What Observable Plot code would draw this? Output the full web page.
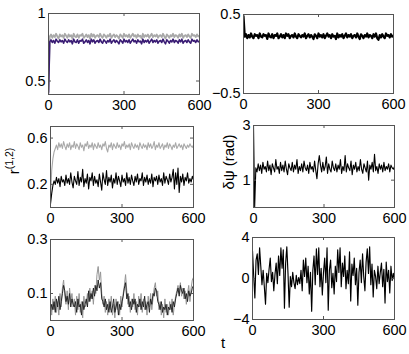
<!DOCTYPE html>
<html><head><meta charset="utf-8">
<script src="https://cdn.jsdelivr.net/npm/d3@7"></script>
<script src="https://cdn.jsdelivr.net/npm/@observablehq/plot@0.6"></script>
<style>
body{margin:0;background:#fff;}
#chart{position:relative;width:409px;height:354px;overflow:hidden;font-family:"Liberation Sans",Arial,sans-serif;}
#chart svg{position:absolute;overflow:visible;}
</style></head><body><div id="chart"></div>
<script>
// time axis (shared by all series)
const t = [0,5,10,15,20,25,30,35,40,45,50,55,60,65,70,75,80,85,90,95,
100,105,110,115,120,125,130,135,140,145,150,155,160,165,170,175,180,185,190,195,
200,205,210,215,220,225,230,235,240,245,250,255,260,265,270,275,280,285,290,295,
300,305,310,315,320,325,330,335,340,345,350,355,360,365,370,375,380,385,390,395,
400,405,410,415,420,425,430,435,440,445,450,455,460,465,470,475,480,485,490,495,
500,505,510,515,520,525,530,535,540,545,550,555,560,565,570,575,580,585,590,595,600];
const xTicks = [0, 300, 600];

// panel 1 (top left)
const p1Gray = [0.42,0.83,0.845,0.82,0.84,0.825,0.85,0.83,0.815,0.845,
0.83,0.84,0.82,0.85,0.835,0.82,0.845,0.83,0.84,0.815,
0.85,0.83,0.825,0.845,0.82,0.84,0.835,0.85,0.82,0.83,
0.845,0.825,0.84,0.815,0.85,0.83,0.845,0.82,0.835,0.84,
0.825,0.85,0.83,0.82,0.845,0.835,0.82,0.84,0.83,0.85,
0.82,0.835,0.845,0.825,0.84,0.83,0.815,0.845,0.835,0.82,
0.85,0.83,0.84,0.825,0.845,0.82,0.835,0.85,0.83,0.84,
0.82,0.845,0.83,0.835,0.815,0.85,0.825,0.84,0.83,0.845,
0.82,0.835,0.85,0.825,0.84,0.83,0.845,0.82,0.835,0.84,
0.825,0.85,0.83,0.815,0.845,0.835,0.82,0.84,0.83,0.85,
0.825,0.84,0.835,0.82,0.845,0.83,0.85,0.82,0.835,0.84,
0.825,0.845,0.83,0.82,0.85,0.835,0.84,0.825,0.845,0.83,0.835];
const p1Purple = [0.41,0.79,0.805,0.785,0.8,0.78,0.81,0.795,0.785,0.805,
0.79,0.8,0.78,0.81,0.795,0.785,0.805,0.79,0.8,0.775,
0.81,0.79,0.785,0.805,0.78,0.8,0.795,0.81,0.78,0.79,
0.805,0.785,0.8,0.775,0.81,0.79,0.805,0.78,0.795,0.8,
0.785,0.81,0.79,0.78,0.805,0.795,0.78,0.8,0.79,0.81,
0.78,0.795,0.805,0.785,0.8,0.79,0.775,0.805,0.795,0.78,
0.81,0.79,0.8,0.785,0.805,0.78,0.795,0.81,0.79,0.8,
0.78,0.805,0.79,0.795,0.775,0.81,0.785,0.8,0.79,0.805,
0.78,0.795,0.81,0.785,0.8,0.79,0.805,0.78,0.795,0.8,
0.785,0.81,0.79,0.775,0.805,0.795,0.78,0.8,0.79,0.81,
0.785,0.8,0.795,0.78,0.805,0.79,0.81,0.78,0.795,0.8,
0.785,0.805,0.79,0.78,0.81,0.795,0.8,0.785,0.805,0.79,0.795];
const p1YTicks = [0.5, 1];

// panel 2 (top right)
const p2Black = [0.48,0.22,0.25,0.2,0.24,0.21,0.26,0.22,0.2,0.25,
0.23,0.24,0.2,0.26,0.22,0.21,0.25,0.23,0.24,0.19,
0.26,0.22,0.21,0.25,0.2,0.24,0.23,0.26,0.2,0.22,
0.25,0.21,0.24,0.2,0.26,0.23,0.25,0.2,0.23,0.24,
0.21,0.26,0.22,0.2,0.25,0.23,0.21,0.24,0.22,0.26,
0.2,0.23,0.25,0.21,0.24,0.22,0.19,0.25,0.23,0.2,
0.26,0.22,0.24,0.21,0.25,0.2,0.23,0.26,0.22,0.24,
0.2,0.25,0.22,0.23,0.19,0.26,0.21,0.24,0.22,0.25,
0.2,0.23,0.26,0.21,0.24,0.22,0.25,0.2,0.23,0.24,
0.21,0.26,0.22,0.19,0.25,0.23,0.2,0.24,0.22,0.26,
0.21,0.24,0.23,0.2,0.25,0.22,0.26,0.2,0.18,0.24,
0.21,0.25,0.22,0.2,0.26,0.23,0.24,0.21,0.25,0.22,0.23];
const p2YTicks = [-0.5, 0.5];

// panel 3 (middle left) r^(1,2)
const p3Gray = [0.08,0.32,0.42,0.48,0.51,0.54,0.5,0.56,0.52,0.55,
0.51,0.57,0.53,0.5,0.55,0.52,0.56,0.5,0.54,0.52,
0.57,0.51,0.55,0.53,0.5,0.56,0.52,0.54,0.49,0.55,
0.53,0.57,0.51,0.54,0.52,0.56,0.5,0.55,0.53,0.51,
0.56,0.52,0.54,0.5,0.55,0.53,0.57,0.51,0.48,0.54,
0.52,0.56,0.5,0.55,0.53,0.51,0.56,0.52,0.54,0.5,
0.55,0.53,0.57,0.51,0.54,0.52,0.55,0.5,0.56,0.53,
0.51,0.55,0.52,0.54,0.5,0.56,0.53,0.51,0.55,0.52,
0.54,0.5,0.56,0.52,0.55,0.51,0.53,0.57,0.5,0.54,
0.52,0.56,0.51,0.53,0.55,0.5,0.54,0.52,0.56,0.51,
0.55,0.53,0.5,0.54,0.52,0.56,0.51,0.53,0.55,0.52,
0.54,0.5,0.55,0.53,0.51,0.54,0.52,0.55,0.53,0.52,0.54];
const p3Black = [0.03,0.12,0.19,0.23,0.2,0.26,0.21,0.25,0.18,0.27,
0.22,0.24,0.19,0.28,0.21,0.25,0.2,0.3,0.22,0.17,
0.27,0.23,0.2,0.31,0.19,0.26,0.22,0.33,0.18,0.25,
0.21,0.29,0.16,0.26,0.23,0.3,0.19,0.27,0.21,0.24,
0.18,0.29,0.22,0.15,0.3,0.24,0.2,0.32,0.19,0.26,
0.22,0.28,0.17,0.25,0.21,0.3,0.2,0.27,0.23,0.18,
0.28,0.22,0.25,0.19,0.3,0.21,0.26,0.2,0.28,0.23,
0.19,0.27,0.22,0.29,0.2,0.25,0.23,0.3,0.19,0.26,
0.22,0.28,0.2,0.25,0.21,0.29,0.18,0.26,0.23,0.27,
0.2,0.28,0.22,0.25,0.19,0.3,0.21,0.27,0.24,0.2,
0.29,0.22,0.26,0.33,0.16,0.3,0.2,0.34,0.13,0.27,
0.22,0.29,0.19,0.26,0.23,0.3,0.21,0.25,0.22,0.27,0.24];
const p3YTicks = [0.2, 0.6];

// panel 4 (middle right) δψ (rad)
const p4Black = [3.0,0.02,1.45,1.3,1.6,1.35,1.55,1.25,1.65,1.4,
1.5,1.3,1.7,1.35,1.55,1.2,1.6,1.45,1.3,1.75,
1.4,1.5,1.25,1.65,1.35,1.55,1.3,1.7,1.4,1.2,
1.6,1.45,1.35,1.65,1.3,1.55,1.4,1.75,1.25,1.5,
1.35,1.6,1.3,1.7,1.45,1.35,1.55,1.25,1.65,1.4,
1.5,1.3,1.7,1.35,1.05,1.6,1.9,1.55,1.3,1.65,
1.35,1.5,1.85,1.25,1.6,1.4,1.3,1.7,1.45,1.35,
1.6,1.3,1.55,1.4,1.75,1.25,1.5,1.35,1.9,1.3,
1.6,1.45,1.35,1.7,1.2,1.55,1.4,1.65,1.3,1.5,
1.35,1.75,1.4,1.25,1.6,1.45,1.3,1.7,1.0,1.55,
1.4,1.65,1.3,1.95,1.35,1.5,1.25,1.6,1.4,1.55,
1.3,1.65,1.35,1.5,1.4,1.6,1.3,1.55,1.45,1.4,1.5];
const p4YTicks = [1, 3];

// panel 5 (bottom left)
const p5Gray = [0.05,0.02,0.08,0.04,0.09,0.03,0.07,0.02,0.1,0.05,
0.12,0.15,0.09,0.06,0.11,0.04,0.12,0.07,0.1,0.05,
0.08,0.02,0.09,0.04,0.1,0.03,0.07,0.01,0.09,0.05,
0.06,0.1,0.07,0.12,0.08,0.11,0.06,0.13,0.1,0.17,
0.2,0.15,0.18,0.1,0.06,0.09,0.03,0.07,0.02,0.08,
0.04,0.09,0.02,0.06,0.01,0.08,0.04,0.07,0.02,0.09,
0.05,0.1,0.13,0.17,0.11,0.06,0.09,0.03,0.08,0.05,
0.1,0.04,0.07,0.02,0.09,0.05,0.1,0.03,0.08,0.04,
0.07,0.02,0.09,0.05,0.1,0.04,0.08,0.12,0.14,0.09,
0.11,0.04,0.07,0.02,0.06,0.01,0.08,0.03,0.06,0.02,
0.07,0.04,0.08,0.02,0.06,0.09,0.11,0.13,0.1,0.14,
0.09,0.12,0.08,0.11,0.06,0.1,0.13,0.07,0.12,0.15,0.16];
const p5Black = [0.03,0.06,0.04,0.07,0.03,0.08,0.05,0.09,0.04,0.07,
0.1,0.13,0.11,0.07,0.09,0.06,0.1,0.05,0.08,0.06,
0.05,0.07,0.03,0.08,0.05,0.06,0.02,0.07,0.04,0.06,
0.08,0.05,0.11,0.07,0.1,0.08,0.12,0.09,0.13,0.11,
0.15,0.12,0.14,0.08,0.07,0.05,0.08,0.04,0.06,0.03,
0.07,0.03,0.05,0.08,0.03,0.05,0.07,0.02,0.06,0.04,
0.07,0.09,0.12,0.14,0.08,0.1,0.05,0.07,0.04,0.08,
0.06,0.08,0.03,0.06,0.05,0.08,0.04,0.07,0.05,0.09,
0.04,0.06,0.07,0.03,0.08,0.06,0.1,0.09,0.12,0.11,
0.07,0.06,0.04,0.07,0.03,0.05,0.04,0.06,0.02,0.05,
0.04,0.06,0.03,0.07,0.05,0.08,0.1,0.12,0.09,0.13,
0.11,0.1,0.12,0.08,0.1,0.07,0.11,0.09,0.1,0.12,0.13];
const p5YTicks = [0.1, 0.3];

// panel 6 (bottom right)
const p6Black = [2.7,0.3,-1.9,1.8,2.4,0.4,3.0,1.2,-0.6,0.8,
-0.8,-2.5,0.5,-0.4,0.9,2.0,-0.3,0.6,-1.2,0.4,
1.5,-0.5,2.2,0.3,3.0,1.0,2.8,-2.9,1.5,3.1,
0.5,-2.8,0.2,-0.8,0.6,-0.4,-1.0,0.3,-0.6,0.1,
-0.5,0.8,-1.2,1.8,0.2,2.0,-0.4,1.2,-1.5,0.6,
-3.2,0.8,2.2,-0.6,2.9,0.4,3.0,-0.8,1.0,-1.6,
0.6,2.0,-0.4,3.0,-3.1,0.8,1.8,-0.9,0.5,-1.5,
1.2,-0.3,2.8,0.6,3.0,-0.8,1.5,0.2,2.2,-1.0,
0.8,-0.5,2.6,-2.2,1.4,0.3,2.0,-0.6,1.0,-2.6,
0.6,1.8,-0.4,2.4,0.2,-1.2,1.6,2.9,0.5,3.1,
-0.6,1.4,-1.8,0.8,0.2,-1.0,1.2,-0.5,0.6,1.5,
-0.8,0.9,-2.4,1.6,-0.3,0.8,-1.4,1.2,-0.2,0.5,-0.1];
const p6YTicks = [-4, 0, 4];

const GRAY = "#a9a9a9", PURPLE = "#3a1c74", BLACK = "#000", FRAME = "#555";
const FONT = "'Liberation Sans', Arial, Helvetica, sans-serif";
const fmt = d => (d < 0 ? "\u2212" + Math.abs(d) : String(d));
const rowsOf = vals => t.map((x, i) => ({t: x, v: vals[i]}));

const panels = [
  {left: 0, top: 0, w: 205, h: 118, ml: 48, mr: 6, mt: 13, mb: 24, ydomain: [0.4, 1], yticks: p1YTicks,
   series: [{v: p1Gray, c: GRAY, sw: 1.8}, {v: p1Purple, c: PURPLE, sw: 1.6}]},
  {left: 205, top: 0, w: 204, h: 118, ml: 38, mr: 16, mt: 14, mb: 25, ydomain: [-0.5, 0.5], yticks: p2YTicks,
   series: [{v: p2Black, c: BLACK, sw: 2.2}]},
  {left: 0, top: 118, w: 205, h: 114, ml: 50, mr: 12, mt: 8, mb: 25, ydomain: [0, 0.7], yticks: p3YTicks,
   series: [{v: p3Gray, c: GRAY, sw: 1.1}, {v: p3Black, c: BLACK, sw: 1.1}], id: "p3"},
  {left: 205, top: 118, w: 204, h: 114, ml: 48, mr: 15, mt: 7, mb: 25, ydomain: [0, 3], yticks: p4YTicks,
   series: [{v: p4Black, c: BLACK, sw: 1.1}], id: "p4"},
  {left: 0, top: 232, w: 205, h: 122, ml: 50, mr: 12, mt: 7, mb: 34, ydomain: [0, 0.3], yticks: p5YTicks,
   series: [{v: p5Gray, c: "#959595", sw: 1}, {v: p5Black, c: "#1a1a1a", sw: 0.9}]},
  {left: 205, top: 232, w: 204, h: 122, ml: 47, mr: 15, mt: 5, mb: 35, ydomain: [-4, 4], yticks: p6YTicks,
   series: [{v: p6Black, c: BLACK, sw: 1.15}], id: "p6"}
];

const chart = document.getElementById("chart");
for (const p of panels) {
  const iw = p.w - p.ml - p.mr, ih = p.h - p.mt - p.mb;
  const svg = Plot.plot({
    width: p.w, height: p.h,
    marginLeft: p.ml, marginRight: p.mr, marginTop: p.mt, marginBottom: p.mb,
    style: {fontFamily: FONT, fontSize: "14.5px", background: "transparent", color: "#000", overflow: "visible"},
    x: {domain: [0, 600]},
    y: {domain: p.ydomain},
    marks: [
      ...p.series.map(s => Plot.line(rowsOf(s.v), {x: "t", y: "v", stroke: s.c, strokeWidth: s.sw, clip: true})),
      Plot.tickX(xTicks, {x: d => d, stroke: FRAME, insetTop: ih - 3}),
      Plot.tickX(xTicks, {x: d => d, stroke: FRAME, insetBottom: ih - 3}),
      Plot.tickY(p.yticks, {y: d => d, stroke: FRAME, insetRight: iw - 3}),
      Plot.tickY(p.yticks, {y: d => d, stroke: FRAME, insetLeft: iw - 3}),
      Plot.frame({stroke: FRAME}),
      Plot.axisX({ticks: xTicks, tickSize: 0, tickPadding: 5, label: null, tickFormat: fmt}),
      Plot.axisY({ticks: p.yticks, tickSize: 0, tickPadding: 3, label: null, tickFormat: fmt})
    ]
  });
  svg.style.left = p.left + "px";
  svg.style.top = p.top + "px";
  const s = d3.select(svg);
  if (p.id === "p3") {
    const tx = s.append("text").attr("transform", "translate(18.5,43) rotate(-90)")
      .attr("text-anchor", "middle").attr("font-size", 15).attr("font-family", FONT).attr("fill", "#000");
    tx.append("tspan").text("r");
    tx.append("tspan").attr("dy", -6).attr("font-size", 10.5).text("(1,2)");
  }
  if (p.id === "p4") {
    s.append("text").attr("transform", "translate(29,44) rotate(-90)")
      .attr("text-anchor", "middle").attr("font-size", 15).attr("font-family", FONT).attr("fill", "#000")
      .text("\u03b4\u03c8 (rad)");
  }
  if (p.id === "p6") {
    s.append("text").attr("x", 18).attr("y", 116).attr("text-anchor", "middle")
      .attr("font-size", 15).attr("font-family", FONT).attr("fill", "#000").text("t");
  }
  chart.appendChild(svg);
}
</script></body></html>
